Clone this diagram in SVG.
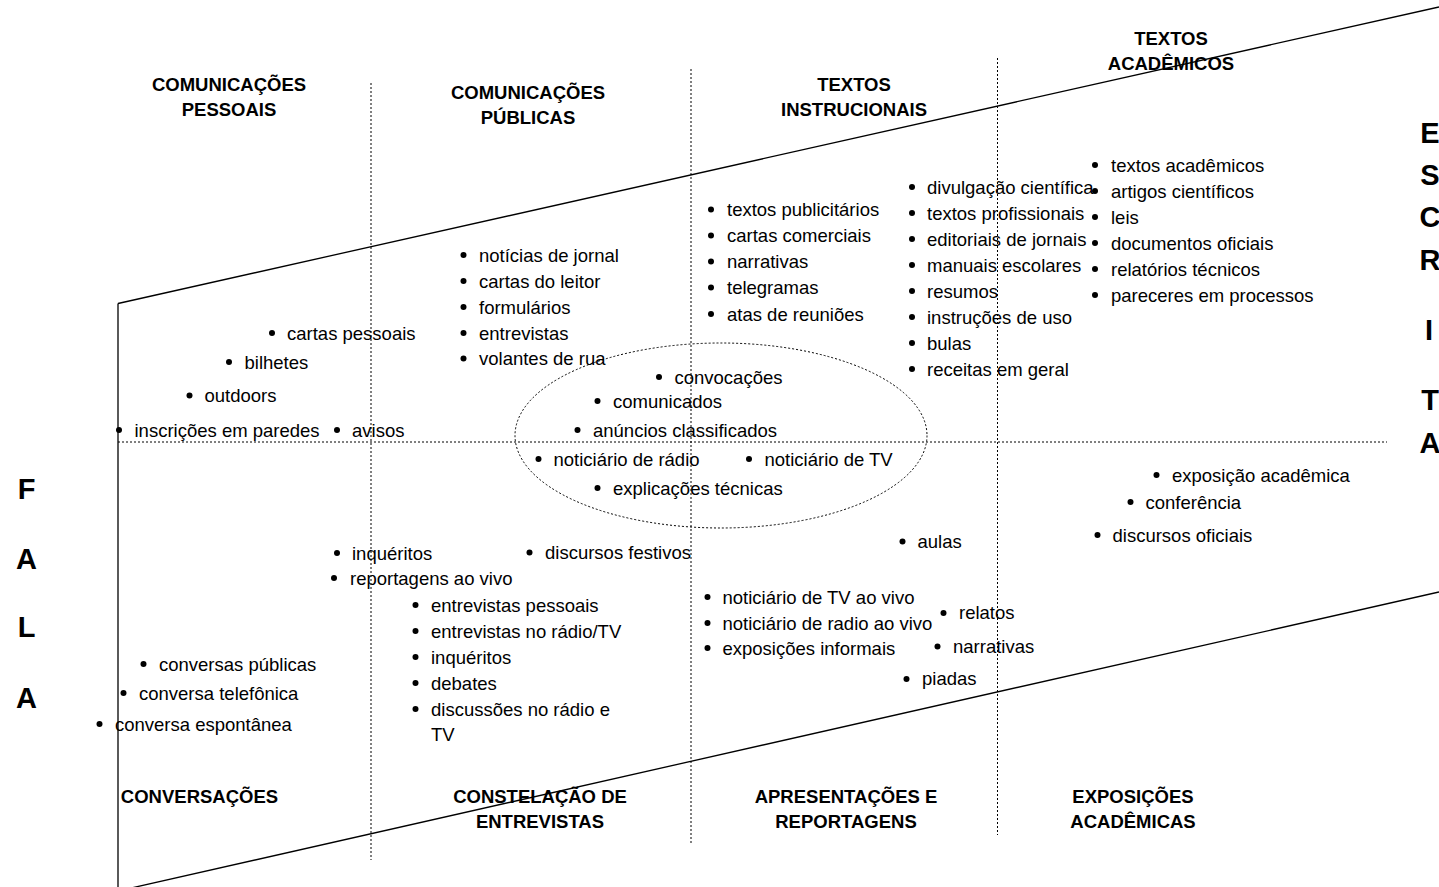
<svg xmlns="http://www.w3.org/2000/svg" width="1439" height="887" viewBox="0 0 1439 887">
<style>
text{font-family:"Liberation Sans",Arial,sans-serif;fill:#000}
.t{font-size:18.5px}
.h{font-size:18.5px;font-weight:bold;text-anchor:middle}
.big{font-size:29px;font-weight:bold;text-anchor:middle}
.b{fill:#000}
.solid{stroke:#000;stroke-width:1.3;fill:none}
.dot{stroke:#000;stroke-width:1;stroke-dasharray:2 2;fill:none}
</style>
<defs><circle id="bul" r="3" class="b"/></defs>
<rect width="1439" height="887" fill="#fff"/>
<g id="connectors">
<line class="solid" x1="118" y1="303.5" x2="1439" y2="7"/>
<line class="solid" x1="118" y1="303.5" x2="118" y2="887"/>
<line class="solid" x1="118" y1="891" x2="1439" y2="592"/>
<line class="dot" x1="371" y1="83" x2="371" y2="860"/>
<line class="dot" x1="691" y1="69" x2="691" y2="845"/>
<line class="dot" x1="997.5" y1="58" x2="997.5" y2="835"/>
<line class="dot" x1="118" y1="442" x2="1387" y2="442"/>
<ellipse class="dot" cx="721" cy="435.5" rx="206" ry="92.5"/>
</g>
<g id="hdr-com-pessoais"><text class="h" x="229" y="91">COMUNICAÇÕES</text><text class="h" x="229" y="115.5">PESSOAIS</text></g>
<g id="hdr-com-publicas"><text class="h" x="528" y="99">COMUNICAÇÕES</text><text class="h" x="528" y="124">PÚBLICAS</text></g>
<g id="hdr-textos-instr"><text class="h" x="854" y="91">TEXTOS</text><text class="h" x="854" y="115.5">INSTRUCIONAIS</text></g>
<g id="hdr-textos-acad"><text class="h" x="1171" y="45">TEXTOS</text><text class="h" x="1171" y="70">ACADÊMICOS</text></g>
<g id="hdr-conversacoes"><text class="h" x="199.5" y="803">CONVERSAÇÕES</text></g>
<g id="hdr-constelacao"><text class="h" x="540" y="803">CONSTELAÇÃO DE</text><text class="h" x="540" y="828">ENTREVISTAS</text></g>
<g id="hdr-apresentacoes"><text class="h" x="846" y="803">APRESENTAÇÕES E</text><text class="h" x="846" y="828">REPORTAGENS</text></g>
<g id="hdr-exposicoes"><text class="h" x="1133" y="803">EXPOSIÇÕES</text><text class="h" x="1133" y="828">ACADÊMICAS</text></g>
<g id="escrita">
<text class="big" x="1430" y="143">E</text>
<text class="big" x="1430" y="185">S</text>
<text class="big" x="1430" y="227">C</text>
<text class="big" x="1430" y="270">R</text>
<text class="big" x="1429" y="339.5">I</text>
<text class="big" x="1430" y="409.5">T</text>
<text class="big" x="1430" y="452.5">A</text>
</g>
<g id="fala">
<text class="big" x="26.5" y="499">F</text>
<text class="big" x="26.5" y="568.5">A</text>
<text class="big" x="26.5" y="636.5">L</text>
<text class="big" x="26.5" y="707.5">A</text>
</g>
<g id="list-pessoais">
<use href="#bul" x="272" y="333"/><text class="t" x="287" y="339.5">cartas pessoais</text>
<use href="#bul" x="229" y="362"/><text class="t" x="244.5" y="368.5">bilhetes</text>
<use href="#bul" x="189.5" y="395.5"/><text class="t" x="204.5" y="402">outdoors</text>
<use href="#bul" x="119" y="430"/><text class="t" x="134.5" y="436.5">inscrições em paredes</text>
<use href="#bul" x="337" y="430"/><text class="t" x="352" y="436.5">avisos</text>
</g>
<g id="list-publicas">
<use href="#bul" x="463.5" y="255"/><text class="t" x="479" y="261.5">notícias de jornal</text>
<use href="#bul" x="463.5" y="281"/><text class="t" x="479" y="287.5">cartas do leitor</text>
<use href="#bul" x="463.5" y="307"/><text class="t" x="479" y="313.5">formulários</text>
<use href="#bul" x="463.5" y="333"/><text class="t" x="479" y="339.5">entrevistas</text>
<use href="#bul" x="463.5" y="358.5"/><text class="t" x="479" y="365">volantes de rua</text>
</g>
<g id="list-instrucionais">
<use href="#bul" x="711" y="209.5"/><text class="t" x="727" y="216">textos publicitários</text>
<use href="#bul" x="711" y="235.5"/><text class="t" x="727" y="242">cartas comerciais</text>
<use href="#bul" x="711" y="261.5"/><text class="t" x="727" y="268">narrativas</text>
<use href="#bul" x="711" y="287.5"/><text class="t" x="727" y="294">telegramas</text>
<use href="#bul" x="711" y="314"/><text class="t" x="727" y="320.5">atas de reuniões</text>
</g>
<g id="list-col4">
<use href="#bul" x="912" y="187"/><text class="t" x="927" y="193.5">divulgação científica</text>
<use href="#bul" x="912" y="213"/><text class="t" x="927" y="219.5">textos profissionais</text>
<use href="#bul" x="912" y="239"/><text class="t" x="927" y="245.5">editoriais de jornais</text>
<use href="#bul" x="912" y="265"/><text class="t" x="927" y="271.5">manuais escolares</text>
<use href="#bul" x="912" y="291"/><text class="t" x="927" y="297.5">resumos</text>
<use href="#bul" x="912" y="317"/><text class="t" x="927" y="323.5">instruções de uso</text>
<use href="#bul" x="912" y="343"/><text class="t" x="927" y="349.5">bulas</text>
<use href="#bul" x="912" y="369"/><text class="t" x="927" y="375.5">receitas em geral</text>
</g>
<g id="list-academicos">
<use href="#bul" x="1095" y="165"/><text class="t" x="1111" y="171.5">textos acadêmicos</text>
<use href="#bul" x="1095" y="191"/><text class="t" x="1111" y="197.5">artigos científicos</text>
<use href="#bul" x="1095" y="217"/><text class="t" x="1111" y="223.5">leis</text>
<use href="#bul" x="1095" y="243"/><text class="t" x="1111" y="249.5">documentos oficiais</text>
<use href="#bul" x="1095" y="269"/><text class="t" x="1111" y="275.5">relatórios técnicos</text>
<use href="#bul" x="1095" y="295"/><text class="t" x="1111" y="301.5">pareceres em processos</text>
</g>
<g id="list-ellipse">
<use href="#bul" x="659" y="377"/><text class="t" x="674.5" y="383.5">convocações</text>
<use href="#bul" x="597.5" y="401"/><text class="t" x="613" y="407.5">comunicados</text>
<use href="#bul" x="577.5" y="430"/><text class="t" x="593" y="436.5">anúncios classificados</text>
<use href="#bul" x="538.5" y="459"/><text class="t" x="553.5" y="465.5">noticiário de rádio</text>
<use href="#bul" x="749" y="459"/><text class="t" x="764.5" y="465.5">noticiário de TV</text>
<use href="#bul" x="597.5" y="488"/><text class="t" x="613" y="494.5">explicações técnicas</text>
</g>
<g id="list-entrevistas">
<use href="#bul" x="337" y="553"/><text class="t" x="352" y="559.5">inquéritos</text>
<use href="#bul" x="334" y="578"/><text class="t" x="350" y="584.5">reportagens ao vivo</text>
<use href="#bul" x="529.5" y="552.5"/><text class="t" x="545" y="559">discursos festivos</text>
<use href="#bul" x="415.5" y="605"/><text class="t" x="431" y="611.5">entrevistas pessoais</text>
<use href="#bul" x="415.5" y="631"/><text class="t" x="431" y="637.5">entrevistas no rádio/TV</text>
<use href="#bul" x="415.5" y="657"/><text class="t" x="431" y="663.5">inquéritos</text>
<use href="#bul" x="415.5" y="683"/><text class="t" x="431" y="689.5">debates</text>
<use href="#bul" x="415.5" y="709"/><text class="t" x="431" y="715.5">discussões no rádio e</text>
<text class="t" x="431" y="740.5">TV</text>
</g>
<g id="list-apresentacoes">
<use href="#bul" x="707.5" y="597"/><text class="t" x="722.5" y="603.5">noticiário de TV ao vivo</text>
<use href="#bul" x="707.5" y="623"/><text class="t" x="722.5" y="629.5">noticiário de radio ao vivo</text>
<use href="#bul" x="707.5" y="648"/><text class="t" x="722.5" y="654.5">exposições informais</text>
<use href="#bul" x="902.5" y="541.5"/><text class="t" x="917.5" y="548">aulas</text>
<use href="#bul" x="943.5" y="613"/><text class="t" x="959" y="619">relatos</text>
<use href="#bul" x="937.5" y="646.5"/><text class="t" x="953" y="652.5">narrativas</text>
<use href="#bul" x="906.5" y="679"/><text class="t" x="922" y="685">piadas</text>
</g>
<g id="list-exposicoes">
<use href="#bul" x="1156.5" y="475"/><text class="t" x="1172" y="481.5">exposição acadêmica</text>
<use href="#bul" x="1130.5" y="502"/><text class="t" x="1145.5" y="508.5">conferência</text>
<use href="#bul" x="1097.5" y="535"/><text class="t" x="1112.5" y="541.5">discursos oficiais</text>
</g>
<g id="list-conversacoes">
<use href="#bul" x="143.5" y="664"/><text class="t" x="159" y="670.5">conversas públicas</text>
<use href="#bul" x="123.5" y="693"/><text class="t" x="139" y="699.5">conversa telefônica</text>
<use href="#bul" x="99.5" y="724"/><text class="t" x="115" y="730.5">conversa espontânea</text>
</g>
</svg>
